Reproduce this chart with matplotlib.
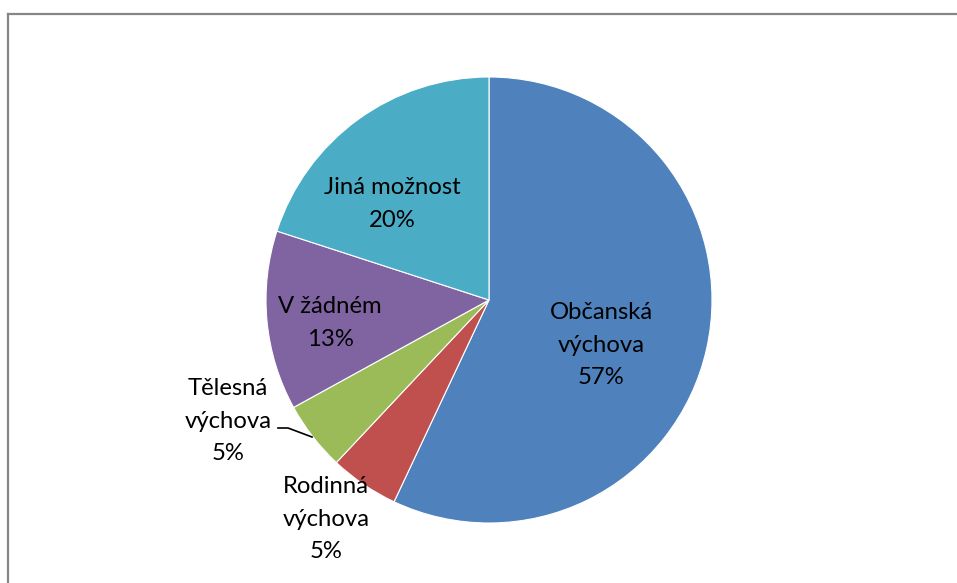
import matplotlib
matplotlib.use("Agg")
import matplotlib.pyplot as plt
from matplotlib.lines import Line2D

categories = ["Občanská\nvýchova", "Rodinná\nvýchova", "Tělesná\nvýchova", "V žádném", "Jiná možnost"]
values = [57, 5, 5, 13, 20]
colors = ["#4F81BD", "#C0504D", "#9BBB59", "#8064A2", "#4BACC6"]

# label layout (pixel coordinates of label centers)
label_pos = [(601, 345), (326, 519), (228, 421), (330, 323), (392, 204)]

plt.rcParams['font.family'] = ['Lato', 'DejaVu Sans']

W, H = 957, 583
fig = plt.figure(figsize=(W / 100, H / 100), dpi=100)
ax = fig.add_axes([0, 0, 1, 1])
cx, cy, R = 489, H - 300, 223
ax.pie(values, colors=colors, startangle=90, counterclock=False,
       center=(cx, cy), radius=R,
       wedgeprops=dict(edgecolor="white", linewidth=0.8))
ax.set_xlim(0, W)
ax.set_ylim(0, H)
ax.set_aspect('equal')
ax.axis('off')

for cat, v, (px, py) in zip(categories, values, label_pos):
    ax.text(px, H - py, f"{cat}\n{v}%", ha="center", va="center",
            fontsize=17.2, color="black", linespacing=1.65)

# leader line for Tělesná výchova
ax.plot([278, 288, 312], [H - 428, H - 428, H - 437], color="black", lw=1.2)

# outer frame (top & left visible)
fig.add_artist(Line2D([8 / W, 1], [1 - 14 / H, 1 - 14 / H], transform=fig.transFigure,
                      color="#868686", lw=1.6))
fig.add_artist(Line2D([8 / W, 8 / W], [0, 1 - 14 / H], transform=fig.transFigure,
                      color="#868686", lw=1.6))

fig.savefig("out.png", dpi=100, facecolor="white")
